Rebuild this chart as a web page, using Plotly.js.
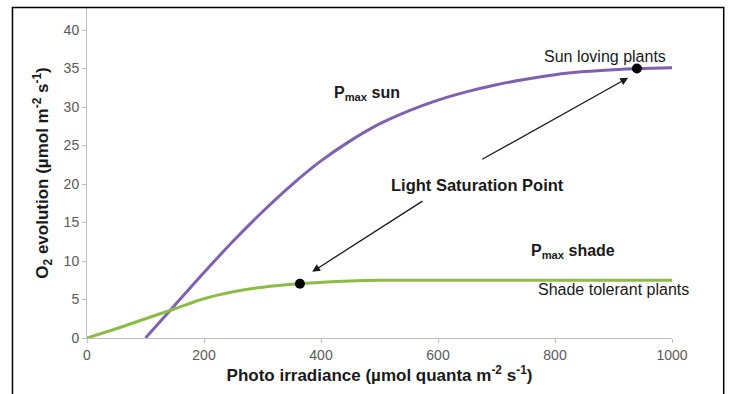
<!DOCTYPE html>
<html>
<head>
<meta charset="utf-8">
<script src="https://cdn.plot.ly/plotly-3.0.1.min.js"></script>
<style>html,body{margin:0;padding:0;background:#fff;}</style>
</head>
<body>
<div id="chart" style="width:729px;height:394px;"></div>
<script>
// Sun loving plants curve
const sunIrradiance = [100, 150, 200, 250, 300, 350, 400, 450, 500, 550, 600, 650, 700, 750, 800, 850, 900, 950, 1000];
const sunO2 = [0, 4.25, 8.5, 12.6, 16.4, 19.9, 23.0, 25.6, 27.8, 29.5, 30.9, 32.0, 32.9, 33.6, 34.2, 34.6, 34.85, 35.0, 35.1];
// Shade tolerant plants curve
const shadeIrradiance = [0, 50, 100, 150, 200, 250, 300, 364, 450, 500, 600, 700, 800, 1000];
const shadeO2 = [0, 1.2, 2.5, 3.8, 5.1, 6.0, 6.6, 7.05, 7.4, 7.5, 7.5, 7.5, 7.5, 7.5];
// Light saturation points
const satIrradiance = [364, 940];
const satO2 = [7.05, 35];
const xTicks = [0, 200, 400, 600, 800, 1000];
const yTicks = [0, 5, 10, 15, 20, 25, 30, 35, 40];

const font = 'Liberation Sans, Arial, sans-serif';

const traces = [
  {x: sunIrradiance, y: sunO2, mode: 'lines', line: {color: '#7E62B0', width: 3, shape: 'spline', smoothing: 1}, hoverinfo: 'skip'},
  {x: shadeIrradiance, y: shadeO2, mode: 'lines', line: {color: '#8DBB47', width: 3, shape: 'spline', smoothing: 1}, hoverinfo: 'skip'},
  {x: satIrradiance, y: satO2, mode: 'markers', marker: {color: '#000', size: 10}, hoverinfo: 'skip'}
];

const layout = {
  width: 729, height: 394,
  margin: {l: 87, r: 57, t: 8, b: 56},
  paper_bgcolor: '#fff', plot_bgcolor: '#fff',
  showlegend: false,
  font: {family: font, color: '#1a1a1a'},
  xaxis: {
    range: [0, 1000], tickvals: xTicks, ticktext: xTicks.map(String),
    showgrid: false, zeroline: false, showline: true, linecolor: '#BFBFBF', linewidth: 1,
    ticks: 'outside', ticklen: 4, tickcolor: '#BFBFBF',
    tickfont: {family: font, size: 14, color: '#595959'},
    title: {text: '<b>Photo irradiance (µmol quanta m<sup>-2</sup> s<sup>-1</sup>)</b>', font: {family: font, size: 17, color: '#1a1a1a'}, standoff: 6}
  },
  yaxis: {
    range: [0, 42.86], tickvals: yTicks, ticktext: yTicks.map(String),
    showgrid: false, zeroline: false, showline: true, linecolor: '#BFBFBF', linewidth: 1,
    ticks: 'outside', ticklen: 4, tickcolor: '#BFBFBF',
    tickfont: {family: font, size: 14, color: '#595959'},
    title: {text: '<b>O<sub>2</sub> evolution (µmol m<sup>-2</sup> s<sup>-1</sup>)</b>', font: {family: font, size: 17, color: '#1a1a1a'}, standoff: 10}
  },
  shapes: [
    {type: 'rect', xref: 'paper', yref: 'paper', x0: -0.1274, x1: 1.0884, y0: -0.2, y1: 1.0015,
     line: {color: '#000', width: 1.5}, fillcolor: 'rgba(0,0,0,0)', layer: 'above'}
  ],
  annotations: [
    {x: 479, y: 31.8, text: '<b>P<sub>max</sub> sun</b>', showarrow: false, font: {family: font, size: 16, color: '#1a1a1a'}},
    {x: 668, y: 19.9, text: '<b>Light Saturation Point</b>', showarrow: false, font: {family: font, size: 16.5, color: '#1a1a1a'}},
    {x: 830, y: 11.2, text: '<b>P<sub>max</sub> shade</b>', showarrow: false, font: {family: font, size: 16, color: '#1a1a1a'}},
    {x: 885, y: 36.5, text: 'Sun loving plants', showarrow: false, font: {family: font, size: 16, color: '#1a1a1a'}},
    {x: 900, y: 6.3, text: 'Shade tolerant plants', showarrow: false, font: {family: font, size: 16, color: '#1a1a1a'}},
    {x: 925, y: 33.8, ax: 673, ay: 23.1, axref: 'x', ayref: 'y', xref: 'x', yref: 'y', text: '', showarrow: true,
     arrowhead: 2, arrowsize: 1.2, arrowwidth: 1.3, arrowcolor: '#1a1a1a'},
    {x: 385, y: 8.6, ax: 576, ay: 17.9, axref: 'x', ayref: 'y', xref: 'x', yref: 'y', text: '', showarrow: true,
     arrowhead: 2, arrowsize: 1.2, arrowwidth: 1.3, arrowcolor: '#1a1a1a'}
  ]
};

Plotly.newPlot('chart', traces, layout, {staticPlot: true, displayModeBar: false});
</script>
</body>
</html>
